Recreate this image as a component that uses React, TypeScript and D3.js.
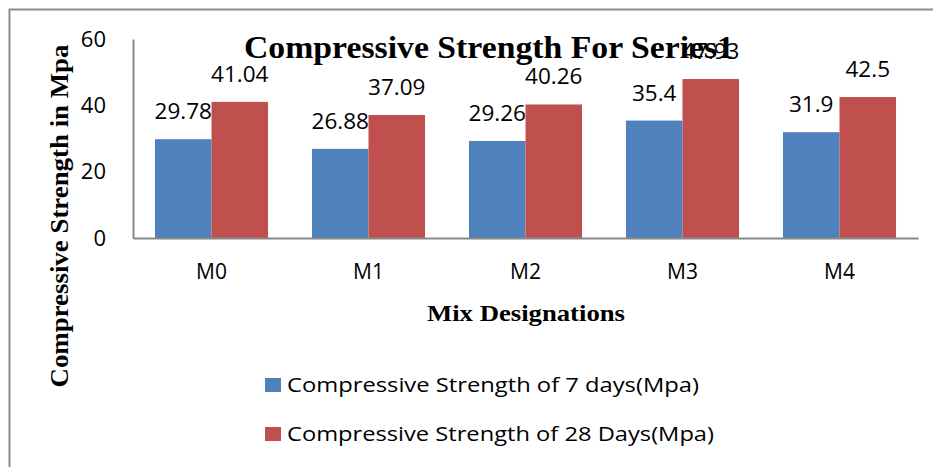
import React, { useEffect, useRef } from 'react'
import * as d3 from 'd3'

const mixes = ['M0', 'M1', 'M2', 'M3', 'M4']
const days7 = [29.78, 26.88, 29.26, 35.4, 31.9]
const days28 = [41.04, 37.09, 40.26, 47.93, 42.5]
const seriesNames = ['Compressive Strength of 7 days(Mpa)', 'Compressive Strength of 28 Days(Mpa)']
const colors = ['#4F81BD', '#C0504D']
const yTicks = [0, 20, 40, 60]

const sans = "'Open Sans', sans-serif"
const serif = "'Liberation Serif', 'Times New Roman', serif"

export default function App() {
  const ref = useRef<SVGSVGElement>(null)

  useEffect(() => {
    const svg = d3.select(ref.current)
    svg.selectAll('*').remove()

    const plot = { left: 133, top: 39, right: 918, bottom: 238 }

    const x = d3.scaleBand()
      .domain(mixes)
      .range([plot.left, plot.right])
      .paddingInner(0.28)
      .paddingOuter(0.14)
    const xSeries = d3.scaleBand()
      .domain(['0', '1'])
      .range([0, x.bandwidth()])
    const y = d3.scaleLinear()
      .domain([0, 60])
      .range([plot.bottom, plot.top])

    // outer frame
    svg.append('rect')
      .attr('x', 9.5).attr('y', 9.5)
      .attr('width', 940).attr('height', 480)
      .attr('fill', 'none')
      .attr('stroke', '#8c8c8c')
      .attr('stroke-width', 2)

    const series = [days7, days28]
    series.forEach((vals, si) => {
      const g = svg.append('g')
      g.selectAll('rect')
        .data(vals).enter()
        .append('rect')
        .attr('x', (d, i) => x(mixes[i])! + xSeries(String(si))!)
        .attr('y', d => y(d))
        .attr('width', xSeries.bandwidth())
        .attr('height', d => plot.bottom - y(d))
        .attr('fill', colors[si])
      g.selectAll('text')
        .data(vals).enter()
        .append('text')
        .attr('x', (d, i) => x(mixes[i])! + xSeries(String(si))! + xSeries.bandwidth() / 2)
        .attr('y', d => y(d) - 20)
        .attr('text-anchor', 'middle')
        .style('font-family', sans)
        .style('font-size', '22.5px')
        .attr('fill', '#000')
        .text(d => String(d))
    })

    // axes
    const yAxis = d3.axisLeft(y).tickValues(yTicks).tickSize(0).tickPadding(27)
    const yg = svg.append('g')
      .attr('transform', `translate(${plot.left}, 0)`)
      .call(yAxis)
    yg.select('.domain').attr('stroke', '#888').attr('stroke-width', 2)
    yg.selectAll('text').style('font-family', sans).style('font-size', '22px').attr('fill', '#000')

    const xAxis = d3.axisBottom(x).tickSize(0).tickPadding(26)
    const xg = svg.append('g')
      .attr('transform', `translate(0, ${plot.bottom})`)
      .call(xAxis)
    xg.select('.domain').attr('stroke', '#888').attr('stroke-width', 2)
    xg.selectAll('text').style('font-family', sans).style('font-size', '21px').attr('fill', '#000')

    // titles (stretched like the original)
    svg.append('text')
      .attr('x', 489).attr('y', 58)
      .attr('text-anchor', 'middle')
      .attr('textLength', 490)
      .attr('lengthAdjust', 'spacingAndGlyphs')
      .style('font-family', serif)
      .style('font-weight', 'bold')
      .style('font-size', '31px')
      .text('Compressive Strength For Series1')

    svg.append('text')
      .attr('x', 526).attr('y', 321)
      .attr('text-anchor', 'middle')
      .attr('textLength', 198)
      .attr('lengthAdjust', 'spacingAndGlyphs')
      .style('font-family', serif)
      .style('font-weight', 'bold')
      .style('font-size', '23px')
      .text('Mix Designations')

    svg.append('text')
      .attr('transform', 'translate(68, 216) rotate(-90)')
      .attr('text-anchor', 'middle')
      .attr('textLength', 343)
      .attr('lengthAdjust', 'spacingAndGlyphs')
      .style('font-family', serif)
      .style('font-weight', 'bold')
      .style('font-size', '25px')
      .text('Compressive Strength in Mpa')

    // legend
    const legendWidths = [412, 427]
    const legend = svg.append('g').attr('transform', 'translate(265, 378)')
    seriesNames.forEach((name, i) => {
      const row = legend.append('g').attr('transform', `translate(0, ${i * 49})`)
      row.append('rect').attr('width', 16).attr('height', 14).attr('fill', colors[i])
      row.append('text')
        .attr('x', 22).attr('y', 14)
        .attr('textLength', legendWidths[i])
        .attr('lengthAdjust', 'spacingAndGlyphs')
        .style('font-family', sans)
        .style('font-size', '20px')
        .text(name)
    })
  }, [])

  return (
    <svg ref={ref} width={933} height={467}
      style={{ position: 'absolute', left: 0, top: 0, background: '#fff' }} />
  )
}
